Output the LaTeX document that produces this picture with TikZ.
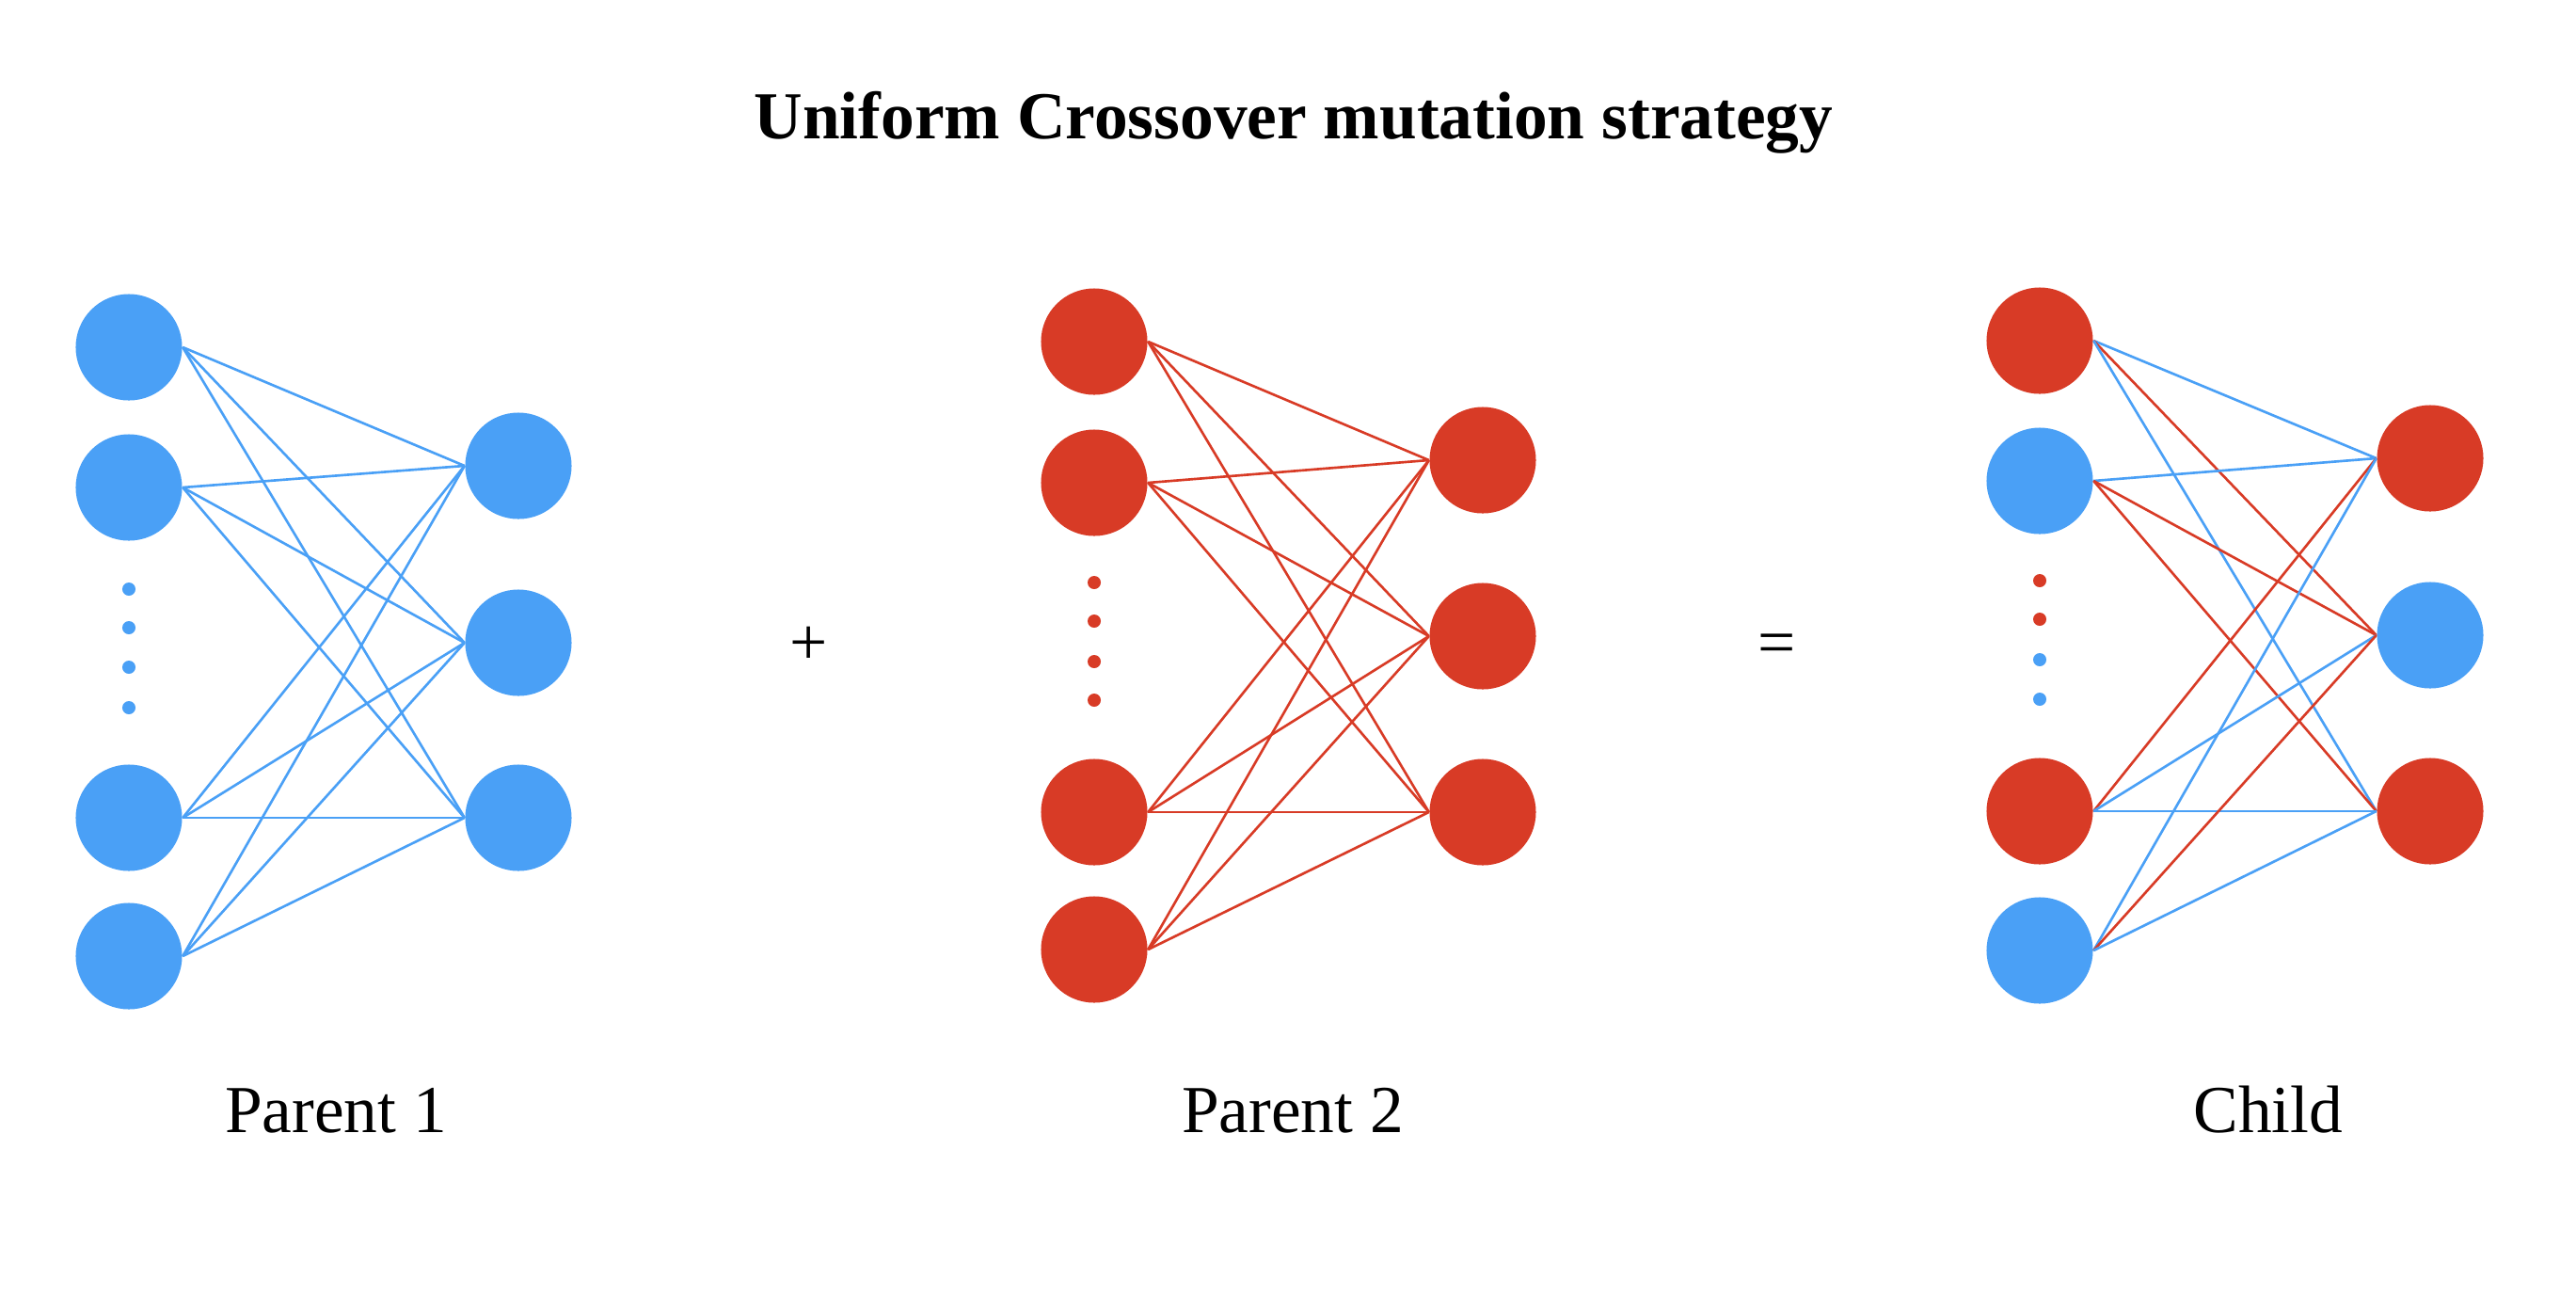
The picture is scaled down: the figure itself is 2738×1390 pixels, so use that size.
\documentclass[tikz,border=0pt]{standalone}
\usepackage{fontspec}
\setmainfont{Liberation Serif}
\definecolor{nnblue}{RGB}{74,160,246}
\definecolor{nnred}{RGB}{216,59,38}
\tikzset{
  neuron/.style={circle, minimum size=11.3mm, inner sep=0pt, draw=none},
  bneuron/.style={neuron, fill=nnblue},
  rneuron/.style={neuron, fill=nnred},
  dotmark/.style={circle, minimum size=1.4mm, inner sep=0pt, draw=none},
  link/.style={line width=0.75pt},
  lbl/.style={font=\fontsize{20.3}{24}\selectfont, anchor=base, inner sep=0pt},
  sym/.style={font=\fontsize{20.3}{24}\selectfont, anchor=center, inner sep=0pt},
}
\begin{document}
\begin{tikzpicture}[x=0.01cm,y=-0.01cm]
\fill[white] (0,0) rectangle (2738,1390);
\useasboundingbox (0,0) rectangle (2738,1390);

% title
\node[lbl, font=\fontsize{20.3}{24}\selectfont\bfseries] (title) at (1375,147) {Uniform Crossover mutation strategy};

% ---------- Parent 1 ----------
\node[bneuron] (p1i1) at (137,369) {};
\node[bneuron] (p1i2) at (137,518) {};
\node[bneuron] (p1i3) at (137,869) {};
\node[bneuron] (p1i4) at (137,1016) {};
\node[bneuron] (p1o1) at (551,495) {};
\node[bneuron] (p1o2) at (551,683) {};
\node[bneuron] (p1o3) at (551,869) {};
\node[dotmark, fill=nnblue] (p1d1) at (137,626) {};
\node[dotmark, fill=nnblue] (p1d2) at (137,667) {};
\node[dotmark, fill=nnblue] (p1d3) at (137,709) {};
\node[dotmark, fill=nnblue] (p1d4) at (137,752) {};
\foreach \i in {1,...,4}
  \foreach \o in {1,2,3}
    \draw[link, nnblue] (p1i\i.east) -- (p1o\o.west);

% ---------- Parent 2 ----------
\node[rneuron] (p2i1) at (1163,363) {};
\node[rneuron] (p2i2) at (1163,513) {};
\node[rneuron] (p2i3) at (1163,863) {};
\node[rneuron] (p2i4) at (1163,1009) {};
\node[rneuron] (p2o1) at (1576,489) {};
\node[rneuron] (p2o2) at (1576,676) {};
\node[rneuron] (p2o3) at (1576,863) {};
\node[dotmark, fill=nnred] (p2d1) at (1163,619) {};
\node[dotmark, fill=nnred] (p2d2) at (1163,660) {};
\node[dotmark, fill=nnred] (p2d3) at (1163,703) {};
\node[dotmark, fill=nnred] (p2d4) at (1163,744) {};
\foreach \i in {1,...,4}
  \foreach \o in {1,2,3}
    \draw[link, nnred] (p2i\i.east) -- (p2o\o.west);

% ---------- Child ----------
\node[rneuron] (ci1) at (2168,362) {};
\node[bneuron] (ci2) at (2168,511) {};
\node[rneuron] (ci3) at (2168,862) {};
\node[bneuron] (ci4) at (2168,1010) {};
\node[rneuron] (co1) at (2583,487) {};
\node[bneuron] (co2) at (2583,675) {};
\node[rneuron] (co3) at (2583,862) {};
\node[dotmark, fill=nnred] (cd1) at (2168,617) {};
\node[dotmark, fill=nnred] (cd2) at (2168,658) {};
\node[dotmark, fill=nnblue] (cd3) at (2168,701) {};
\node[dotmark, fill=nnblue] (cd4) at (2168,743) {};
\foreach \i/\o/\c in {1/1/nnblue, 1/2/nnred, 1/3/nnblue,
                      2/1/nnblue, 2/2/nnred, 2/3/nnred,
                      3/1/nnred, 3/2/nnblue, 3/3/nnblue,
                      4/1/nnblue, 4/2/nnred, 4/3/nnblue}
  \draw[link, \c] (ci\i.east) -- (co\o.west);

% operators and labels
\node[sym] (plus) at (860,686) {+};
\node[sym] (equals) at (1889,690) {=};
\node[lbl] (lab1) at (357,1203) {Parent 1};
\node[lbl] (lab2) at (1374,1203) {Parent 2};
\node[lbl] (lab3) at (2411,1203) {Child};
\end{tikzpicture}
\end{document}
